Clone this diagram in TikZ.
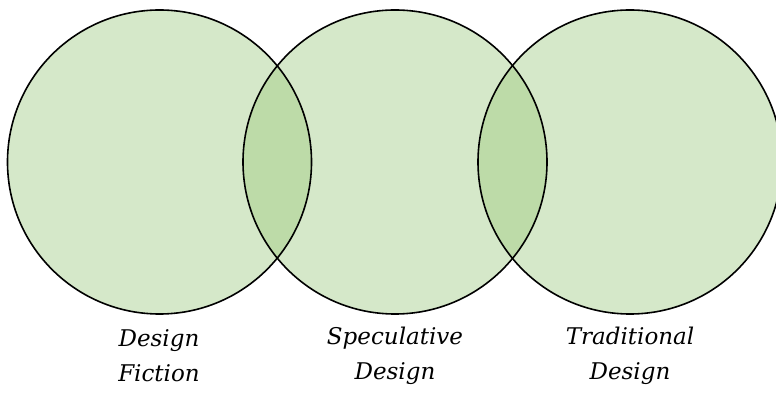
\documentclass[tikz,border=0pt]{standalone}
\usepackage{fontspec}
\setmainfont{DejaVu Serif}
\begin{document}
\begin{tikzpicture}[x=1pt,y=-1pt,
  setfill/.style={fill={rgb,255:red,151;green,198;blue,119}, fill opacity=0.4},
  setline/.style={draw=black, line width=1.6pt},
  caption/.style={align=center, font=\itshape\fontsize{23}{35}\selectfont, inner sep=0pt}]
  \useasboundingbox (0,0) rectangle (776,411);
  \begin{scope}
    \clip (0,0) rectangle (776,411);
    % translucent fills first, so every outline stays on top
    \fill[setfill] (159.5,162) circle (152);
    \fill[setfill] (395,162) circle (152);
    \fill[setfill] (630,162) circle (152);
    \draw[setline] (159.5,162) circle (152);
    \draw[setline] (395,162) circle (152);
    \draw[setline] (630,162) circle (152);
  \end{scope}
  \node[caption] (df) at (159,356) {Design\\Fiction};
  \node[caption] (sd) at (395,356) {Speculative\\Design};
  \node[caption] (td) at (630,356) {Traditional\\Design};
\end{tikzpicture}
\end{document}
